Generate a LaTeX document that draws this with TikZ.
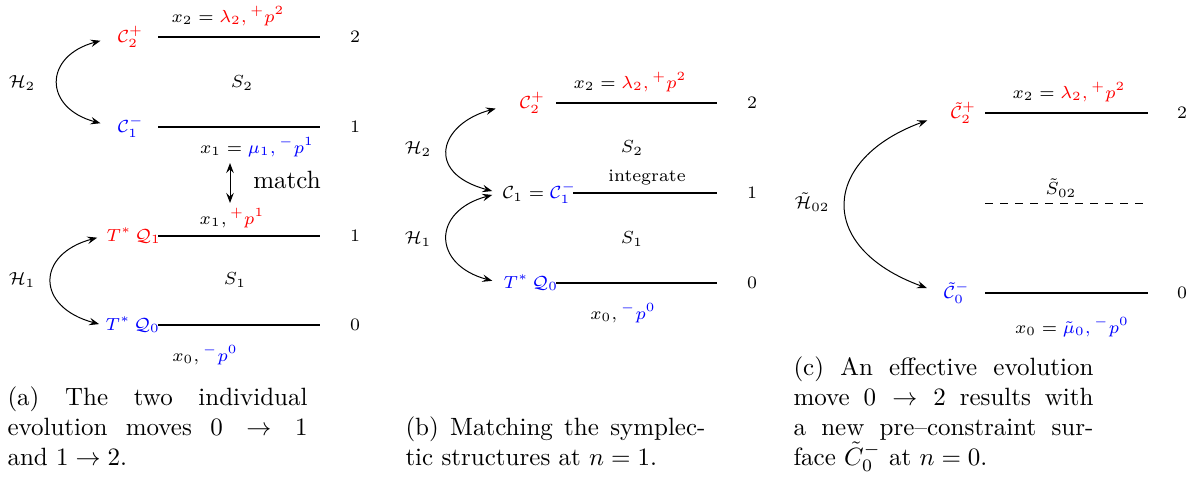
\documentclass[tikz,border=0pt]{standalone}
\usepackage{amsmath,amssymb}
\usetikzlibrary{arrows.meta,positioning,calc}

\begin{document}
\begin{tikzpicture}[x=0.4pt,y=-0.4pt,
  lvl/.style={thick},
  lab/.style={font=\scriptsize, inner sep=1pt},
  ham/.style={<->, >={Stealth[length=4pt,width=3pt,inset=1.5pt]}},
  captext/.style={anchor=base west, text width=120pt, align=justify, inner sep=0pt}]
\useasboundingbox (0,0) rectangle (1200,480);
\foreach \y/\n in {37/2,127/1,236/1,325/0} { \draw[lvl] (158,\y) -- (320,\y); \node[lab] (na\y) at (355,\y) {\n}; }
\foreach \y/\n in {103/2,193/1,283/0} { \node[lab] (nb\y) at (752,\y) {\n}; }
\draw[lvl] (556,103) -- (717,103); \draw[lvl] (573,193) -- (717,193); \draw[lvl] (556,283) -- (717,283);
\foreach \y/\n in {113/2,293/0} { \draw[lvl] (985,\y) -- (1148,\y); \node[lab] (nc\y) at (1182,\y) {\n}; }
\draw[dashed] (985,203) -- (1148,203);
\node[lab, anchor=west, text=red] (c2a) at (114.5,37) {$\mathcal{C}_2^+$};
\node[lab, anchor=west, text=blue] (c1a) at (114.5,127) {$\mathcal{C}_1^-$};
\node[lab, anchor=west, text=red] (q1a) at (103.5,236) {$T^*\,\mathcal{Q}_1$};
\node[lab, anchor=west, text=blue] (q0a) at (102.5,325) {$T^*\,\mathcal{Q}_0$};
\node[lab] (h2a) at (22,83) {$\mathcal{H}_2$}; \node[lab] (h1a) at (22,280) {$\mathcal{H}_1$};
\node[lab] (s2a) at (242,83) {$S_2$}; \node[lab] (s1a) at (235,280) {$S_1$};
\node[lab] (x2a) at (228,16) {$x_2 = \textcolor{red}{\lambda_2, {}^+p^2}$};
\node[lab] (x1a) at (257,147) {$x_1 = \textcolor{blue}{\mu_1, {}^-p^1}$};
\node[lab] (x1pa) at (232,218) {$x_1, \textcolor{red}{{}^+p^1}$};
\node[lab] (x0a) at (205,355) {$x_0, \textcolor{blue}{{}^-p^0}$};
\coordinate (m1) at (230,163); \coordinate (m2) at (230,203);
\draw[ham] (m1) -- (m2); \node (matcha) at (287,180) {match};
\draw[ham, shorten <=5.8pt, shorten >=5.8pt] (c2a.west) to[out=195,in=165,looseness=2.1] (c1a.west);
\draw[ham, shorten <=2.6pt, shorten >=1.4pt] (q1a.west) to[out=195,in=165,looseness=2.0] (q0a.west);
\node[lab, anchor=west, text=red] (c2b) at (516.5,103) {$\mathcal{C}_2^+$};
\node[lab, anchor=west] (c1b) at (499.5,193) {$\mathcal{C}_1 = \textcolor{blue}{\mathcal{C}_1^-}$};
\node[lab, anchor=west, text=blue] (q0b) at (500.5,283) {$T^*\,\mathcal{Q}_0$};
\node[lab] (h2b) at (418,149) {$\mathcal{H}_2$}; \node[lab] (h1b) at (418,239) {$\mathcal{H}_1$};
\node[lab] (x2b) at (630,82) {$x_2 = \textcolor{red}{\lambda_2, {}^+p^2}$};
\node[lab] (s2b) at (632,148) {$S_2$}; \node[lab] (integ) at (647,178) {integrate};
\node[lab] (s1b) at (632,239) {$S_1$};
\node[lab] (x0b) at (623,313) {$x_0, \textcolor{blue}{{}^-p^0}$};
\draw[ham, shorten <=8.6pt, shorten >=3pt] (c2b.west) to[out=195,in=165,looseness=2.2] (c1b.west);
\draw[ham, shorten <=3pt, shorten >=3.4pt] (c1b.west) to[out=195,in=165,looseness=2.0] (q0b.west);
\node[lab, anchor=west, text=red] (c2c) at (947.5,113) {$\tilde{\mathcal{C}}_2^+$};
\node[lab, anchor=west, text=blue] (c0c) at (940.5,293) {$\tilde{\mathcal{C}}_0^-$};
\node[lab] (h02c) at (812,202) {$\tilde{\mathcal{H}}_{02}$};
\node[lab] (x2c) at (1069,92) {$x_2 = \textcolor{red}{\lambda_2, {}^+p^2}$};
\node[lab] (s02c) at (1061,188) {$\tilde S_{02}$};
\node[lab] (x0c) at (1072,327) {$x_0 = \textcolor{blue}{\tilde\mu_0, {}^-p^0}$};
\draw[ham, shorten <=8.6pt, shorten >=5.8pt] (c2c.west) to[out=200,in=160,looseness=1.9] (c0c.west);
\node[captext] (capa) at (7,405) {\makebox[120pt][s]{(a) The two individual}\\\makebox[120pt][s]{evolution moves $0 \rightarrow 1$}\\and $1 \rightarrow 2$.};
\node[captext] (capb) at (405,435) {\makebox[120pt][s]{(b) Matching the symplec-}\\tic structures at $n=1$.};
\node[captext] (capc) at (793,375) {\makebox[120pt][s]{(c) An effective evolution}\\\makebox[120pt][s]{move $0 \rightarrow 2$ results with}\\\makebox[120pt][s]{a new pre--constraint sur-}\\face $\tilde{C}_0^-$ at $n=0$.};
\end{tikzpicture}
\end{document}
